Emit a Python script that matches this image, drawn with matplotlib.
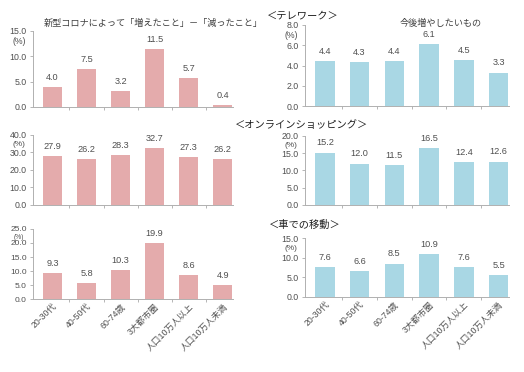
import matplotlib
matplotlib.use('Agg')
import matplotlib.pyplot as plt
import numpy as np

# Arial-like digits, CJK glyphs fall back to Noto
plt.rcParams['font.family'] = ['Liberation Sans', 'Noto Sans CJK JP']

# ----- data -----
categories = ['20-30代', '40-50代', '60-74歳', '3大都市圏', '人口10万人以上', '人口10万人未満']

telework_diff = [4.0, 7.5, 3.2, 11.5, 5.7, 0.4]
telework_want = [4.4, 4.3, 4.4, 6.1, 4.5, 3.3]
online_diff = [27.9, 26.2, 28.3, 32.7, 27.3, 26.2]
online_want = [15.2, 12.0, 11.5, 16.5, 12.4, 12.6]
car_diff = [9.3, 5.8, 10.3, 19.9, 8.6, 4.9]
car_want = [7.6, 6.6, 8.5, 10.9, 7.6, 5.5]

headings = ['＜テレワーク＞', '＜オンラインショッピング＞', '＜車での移動＞']
left_title = '新型コロナによって「増えたこと」－「減ったこと」'
right_title = '今後増やしたいもの'

pink = '#E4ABAC'
blue = '#A9D7E4'
txt = '#505050'
cjk = ['Noto Sans CJK JP', 'DejaVu Sans']

W, H = 524, 372
fig = plt.figure(figsize=(5.24, 3.72), dpi=100)

def px_axes(x0, x1, ytop, ybot):
    return fig.add_axes([x0 / W, 1 - ybot / H, (x1 - x0) / W, (ybot - ytop) / H])

# (values, color, ymax, ystep, x0, x1, ytop, ybot, show xlabels, ytick size, (%) size, (%) offset)
panels = [
    (telework_diff, pink, 15, 5, 33, 233, 31, 107, False, 6.3, 6.3, -7.5),
    (telework_want, blue, 8, 2, 305, 509, 25, 106, False, 6.3, 6.3, -7.5),
    (online_diff, pink, 40, 10, 33, 233, 135, 205, False, 6.3, 6.0, -6.5),
    (online_want, blue, 20, 5, 305, 509, 136, 205, False, 6.3, 6.0, -6.5),
    (car_diff, pink, 25, 5, 33, 233, 229, 299, True, 6.0, 4.8, -6.2),
    (car_want, blue, 15, 5, 305, 509, 238, 297, True, 6.3, 6.0, -7.2),
]

x = np.arange(len(categories))
for vals, col, ymax, ystep, x0, x1, yt, yb, showx, ysize, psize, poff in panels:
    ax = px_axes(x0, x1, yt, yb)
    ax.bar(x, vals, width=0.56, color=col)
    ax.set_xlim(-0.57, 5.3)
    ax.set_ylim(0, ymax)
    ax.set_yticks(np.arange(0, ymax + 0.01, ystep))
    ax.set_yticklabels(['%.1f' % v for v in np.arange(0, ymax + 0.01, ystep)])
    ax.tick_params(axis='y', labelsize=ysize, colors=txt, length=2.5, width=0.6, pad=2, color='#aaaaaa')
    ax.set_xticks(x)
    ax.set_xticks(x[:-1] + 0.5, minor=True)
    ax.tick_params(axis='x', which='major', length=0, labelsize=6.3, colors=txt, pad=2)
    ax.tick_params(axis='x', which='minor', length=2.5, width=0.6, color='#aaaaaa')
    if showx:
        ax.set_xticklabels(categories, rotation=45, ha='right', rotation_mode='anchor')
    else:
        ax.set_xticklabels([])
    for s in ['top', 'right']:
        ax.spines[s].set_visible(False)
    for s in ['left', 'bottom']:
        ax.spines[s].set_color('#b0b0b0')
        ax.spines[s].set_linewidth(0.7)
    for xi, v in zip(x, vals):
        ax.annotate('%.1f' % v, (xi, v), xytext=(0, 7), textcoords='offset points',
                    ha='center', va='center', fontsize=6.6, color=txt)
    ax.annotate('(%)', (0, 1), xycoords='axes fraction', xytext=(-10, poff),
                textcoords='offset points', ha='center', va='center', fontsize=psize, color=txt)

fig.text(153 / W, 1 - 23 / H, left_title, ha='center', va='center', fontsize=6.6,
         color='#404040', family=cjk)
fig.text(441 / W, 1 - 23 / H, right_title, ha='center', va='center', fontsize=6.6,
         color='#404040', family=cjk)
fig.text(303 / W, 1 - 15 / H, headings[0], ha='center', va='center', fontsize=7.4,
         color='#202020', family=cjk)
fig.text(302 / W, 1 - 125 / H, headings[1], ha='center', va='center', fontsize=7.4,
         color='#202020', family=cjk)
fig.text(305 / W, 1 - 225 / H, headings[2], ha='center', va='center', fontsize=7.4,
         color='#202020', family=cjk)

fig.savefig('out.png', dpi=100)
